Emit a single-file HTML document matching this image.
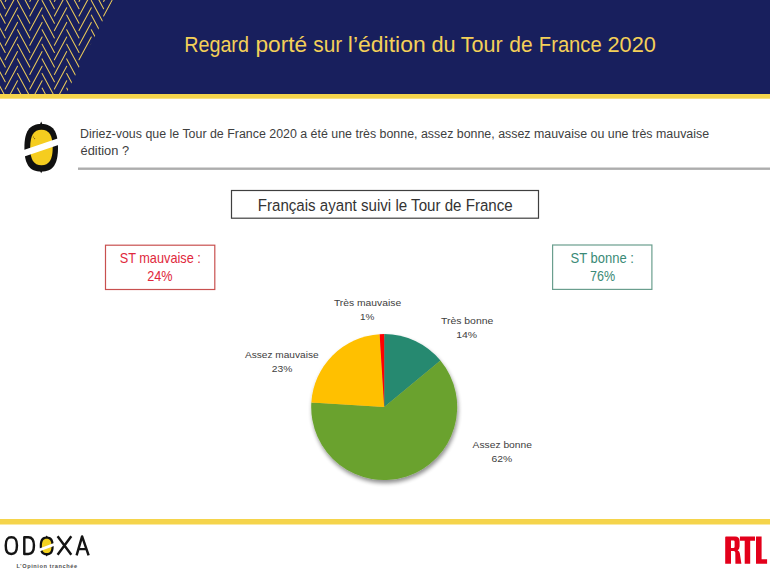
<!DOCTYPE html>
<html><head><meta charset="utf-8">
<style>
html,body{margin:0;padding:0;background:#fff;}
body{width:770px;height:572px;overflow:hidden;position:relative;font-family:"Liberation Sans",sans-serif;}
svg{position:absolute;left:0;top:0;display:block;}
</style></head>
<body>
<svg width="770" height="572" viewBox="0 0 770 572" font-family="Liberation Sans, sans-serif">
<defs>
<clipPath id="pc"><polygon points="0,0 113,0 66,94 0,94"/></clipPath>
<filter id="sh" x="-20%" y="-20%" width="140%" height="140%">
<feGaussianBlur in="SourceAlpha" stdDeviation="2.2"/>
<feOffset dx="1" dy="3" result="b"/>
<feComponentTransfer><feFuncA type="linear" slope="0.45"/></feComponentTransfer>
<feMerge><feMergeNode/><feMergeNode in="SourceGraphic"/></feMerge>
</filter>
</defs>
<!-- header -->
<rect x="0" y="0" width="770" height="94" fill="#181f5d"/>
<g clip-path="url(#pc)" stroke="#e8c85a" stroke-width="1.05" stroke-linecap="round">
<line x1="-7.1" y1="-14.1" x2="5.2" y2="8.7"/>
<line x1="-7.1" y1="0.5" x2="5.2" y2="23.3"/>
<line x1="-7.1" y1="15.1" x2="5.2" y2="37.9"/>
<line x1="-7.1" y1="29.7" x2="5.2" y2="52.5"/>
<line x1="-7.1" y1="44.3" x2="5.2" y2="67.1"/>
<line x1="-7.1" y1="58.9" x2="5.2" y2="81.7"/>
<line x1="-7.1" y1="73.5" x2="5.2" y2="96.3"/>
<line x1="-7.1" y1="88.1" x2="5.2" y2="110.9"/>
<line x1="5.2" y1="1.4" x2="17.5" y2="-21.4"/>
<line x1="5.2" y1="16.0" x2="17.5" y2="-6.8"/>
<line x1="17.5" y1="-14.1" x2="29.8" y2="8.7"/>
<line x1="5.2" y1="30.6" x2="17.5" y2="7.8"/>
<line x1="17.5" y1="0.5" x2="29.8" y2="23.3"/>
<line x1="5.2" y1="45.2" x2="17.5" y2="22.4"/>
<line x1="17.5" y1="15.1" x2="29.8" y2="37.9"/>
<line x1="5.2" y1="59.8" x2="17.5" y2="37.0"/>
<line x1="17.5" y1="29.7" x2="29.8" y2="52.5"/>
<line x1="5.2" y1="74.4" x2="17.5" y2="51.6"/>
<line x1="17.5" y1="44.3" x2="29.8" y2="67.1"/>
<line x1="5.2" y1="89.0" x2="17.5" y2="66.2"/>
<line x1="17.5" y1="58.9" x2="29.8" y2="81.7"/>
<line x1="5.2" y1="103.6" x2="17.5" y2="80.8"/>
<line x1="17.5" y1="73.5" x2="29.8" y2="96.3"/>
<line x1="17.5" y1="88.1" x2="29.8" y2="110.9"/>
<line x1="29.8" y1="1.4" x2="42.1" y2="-21.4"/>
<line x1="29.8" y1="16.0" x2="42.1" y2="-6.8"/>
<line x1="42.1" y1="-14.1" x2="54.4" y2="8.7"/>
<line x1="29.8" y1="30.6" x2="42.1" y2="7.8"/>
<line x1="42.1" y1="0.5" x2="54.4" y2="23.3"/>
<line x1="29.8" y1="45.2" x2="42.1" y2="22.4"/>
<line x1="42.1" y1="15.1" x2="54.4" y2="37.9"/>
<line x1="29.8" y1="59.8" x2="42.1" y2="37.0"/>
<line x1="42.1" y1="29.7" x2="54.4" y2="52.5"/>
<line x1="29.8" y1="74.4" x2="42.1" y2="51.6"/>
<line x1="42.1" y1="44.3" x2="54.4" y2="67.1"/>
<line x1="29.8" y1="89.0" x2="42.1" y2="66.2"/>
<line x1="42.1" y1="58.9" x2="54.4" y2="81.7"/>
<line x1="29.8" y1="103.6" x2="42.1" y2="80.8"/>
<line x1="42.1" y1="73.5" x2="54.4" y2="96.3"/>
<line x1="42.1" y1="88.1" x2="54.4" y2="110.9"/>
<line x1="54.4" y1="1.4" x2="66.7" y2="-21.4"/>
<line x1="54.4" y1="16.0" x2="66.7" y2="-6.8"/>
<line x1="66.7" y1="-14.1" x2="79.0" y2="8.7"/>
<line x1="54.4" y1="30.6" x2="66.7" y2="7.8"/>
<line x1="66.7" y1="0.5" x2="79.0" y2="23.3"/>
<line x1="54.4" y1="45.2" x2="66.7" y2="22.4"/>
<line x1="66.7" y1="15.1" x2="79.0" y2="37.9"/>
<line x1="54.4" y1="59.8" x2="66.7" y2="37.0"/>
<line x1="66.7" y1="29.7" x2="79.0" y2="52.5"/>
<line x1="54.4" y1="74.4" x2="66.7" y2="51.6"/>
<line x1="66.7" y1="44.3" x2="79.0" y2="67.1"/>
<line x1="54.4" y1="89.0" x2="66.7" y2="66.2"/>
<line x1="66.7" y1="58.9" x2="79.0" y2="81.7"/>
<line x1="54.4" y1="103.6" x2="66.7" y2="80.8"/>
<line x1="66.7" y1="73.5" x2="79.0" y2="96.3"/>
<line x1="66.7" y1="88.1" x2="79.0" y2="110.9"/>
<line x1="79.0" y1="1.4" x2="91.3" y2="-21.4"/>
<line x1="79.0" y1="16.0" x2="91.3" y2="-6.8"/>
<line x1="91.3" y1="-14.1" x2="103.6" y2="8.7"/>
<line x1="79.0" y1="30.6" x2="91.3" y2="7.8"/>
<line x1="91.3" y1="0.5" x2="103.6" y2="23.3"/>
<line x1="79.0" y1="45.2" x2="91.3" y2="22.4"/>
<line x1="91.3" y1="15.1" x2="103.6" y2="37.9"/>
<line x1="79.0" y1="59.8" x2="91.3" y2="37.0"/>
<line x1="91.3" y1="29.7" x2="103.6" y2="52.5"/>
<line x1="79.0" y1="74.4" x2="91.3" y2="51.6"/>
<line x1="91.3" y1="44.3" x2="103.6" y2="67.1"/>
<line x1="79.0" y1="89.0" x2="91.3" y2="66.2"/>
<line x1="91.3" y1="58.9" x2="103.6" y2="81.7"/>
<line x1="79.0" y1="103.6" x2="91.3" y2="80.8"/>
<line x1="91.3" y1="73.5" x2="103.6" y2="96.3"/>
<line x1="91.3" y1="88.1" x2="103.6" y2="110.9"/>
<line x1="103.6" y1="1.4" x2="115.9" y2="-21.4"/>
<line x1="103.6" y1="16.0" x2="115.9" y2="-6.8"/>
<line x1="103.6" y1="30.6" x2="115.9" y2="7.8"/>
<line x1="103.6" y1="45.2" x2="115.9" y2="22.4"/>
<line x1="103.6" y1="59.8" x2="115.9" y2="37.0"/>
<line x1="103.6" y1="74.4" x2="115.9" y2="51.6"/>
<line x1="103.6" y1="89.0" x2="115.9" y2="66.2"/>
<line x1="103.6" y1="103.6" x2="115.9" y2="80.8"/>
</g>
<rect x="0" y="94" width="770" height="4.7" fill="#f5d44b"/>
<text x="184.26" y="51.5" font-size="21.5" fill="#f4d058" textLength="64.65" lengthAdjust="spacingAndGlyphs">Regard</text>
<text x="255.48" y="51.5" font-size="21.5" fill="#f4d058" textLength="51.74" lengthAdjust="spacingAndGlyphs">porté</text>
<text x="313.37" y="51.5" font-size="21.5" fill="#f4d058" textLength="28.93" lengthAdjust="spacingAndGlyphs">sur</text>
<text x="347.87" y="51.5" font-size="21.5" fill="#f4d058" textLength="77.82" lengthAdjust="spacingAndGlyphs">l’édition</text>
<text x="431.42" y="51.5" font-size="21.5" fill="#f4d058" textLength="24.20" lengthAdjust="spacingAndGlyphs">du</text>
<text x="460.66" y="51.5" font-size="21.5" fill="#f4d058" textLength="41.94" lengthAdjust="spacingAndGlyphs">Tour</text>
<text x="509.25" y="51.5" font-size="21.5" fill="#f4d058" textLength="23.30" lengthAdjust="spacingAndGlyphs">de</text>
<text x="538.82" y="51.5" font-size="21.5" fill="#f4d058" textLength="62.90" lengthAdjust="spacingAndGlyphs">France</text>
<text x="607.48" y="51.5" font-size="21.5" fill="#f4d058" textLength="48.36" lengthAdjust="spacingAndGlyphs">2020</text>

<!-- question icon -->
<g>
<path d="M39.6,125 L41.2,121.6 L42.8,125 Z" fill="#111"/>
<path d="M39.6,170 L41.2,173.2 L42.8,170 Z" fill="#111"/>
<path d="M41.20,124.00 C52.96,124.00 58.00,131.14 58.00,147.80 C58.00,164.46 52.96,171.60 41.20,171.60 C29.44,171.60 24.40,164.46 24.40,147.80 C24.40,131.14 29.44,124.00 41.20,124.00 Z" fill="#111"/>
<path d="M41.45,129.70 C49.10,129.70 52.70,135.40 52.70,147.50 C52.70,159.60 49.10,165.30 41.45,165.30 C33.80,165.30 30.20,159.60 30.20,147.50 C30.20,135.40 33.80,129.70 41.45,129.70 Z" fill="#f5cd1f"/>
<polygon points="20,151.2 62,136.9 62,143.7 20,158" fill="#fff"/>
<circle cx="33.5" cy="137" r="0.6" fill="#7a5a10"/><circle cx="34.6" cy="138.6" r="0.6" fill="#7a5a10"/>
</g>
<text x="79.93" y="137.9" font-size="12" fill="#404040" textLength="629.17" lengthAdjust="spacingAndGlyphs">Diriez-vous que le Tour de France 2020 a été une très bonne, assez bonne, assez mauvaise ou une très mauvaise</text>
<text x="80.50" y="154.5" font-size="12" fill="#404040" textLength="48.62" lengthAdjust="spacingAndGlyphs">édition ?</text>
<rect x="78" y="167.5" width="692" height="2.4" fill="#adadad"/>

<!-- chart title -->
<rect x="231.5" y="190.5" width="307" height="27.7" fill="#fff" stroke="#3f3f3f" stroke-width="1.2"/>
<text x="257.72" y="210.7" font-size="16.3" fill="#333" textLength="254.99" lengthAdjust="spacingAndGlyphs">Français ayant suivi le Tour de France</text>

<!-- ST boxes -->
<rect x="105.5" y="245.2" width="109.3" height="44.3" fill="#fff" stroke="#c8504f" stroke-width="1.2"/>
<rect x="552.6" y="245" width="99.3" height="44.4" fill="#fff" stroke="#6a9e8e" stroke-width="1.2"/>
<text x="119.70" y="263.0" font-size="14.2" fill="#e0283c" textLength="81.14" lengthAdjust="spacingAndGlyphs">ST mauvaise :</text>
<text x="147.21" y="281.2" font-size="14.2" fill="#e0283c" textLength="25.37" lengthAdjust="spacingAndGlyphs">24%</text>
<text x="570.50" y="262.7" font-size="14.2" fill="#3a8a76" textLength="63.38" lengthAdjust="spacingAndGlyphs">ST bonne :</text>
<text x="590.11" y="280.9" font-size="14.2" fill="#3a8a76" textLength="25.06" lengthAdjust="spacingAndGlyphs">76%</text>




<!-- pie -->
<g filter="url(#sh)"><path d="M384.2,407.0 L384.20,334.00 A73.0,73.0 0 0 1 440.45,360.47 Z" fill="#258970"/>
<path d="M384.2,407.0 L440.45,360.47 A73.0,73.0 0 1 1 311.34,402.42 Z" fill="#6aa22f"/>
<path d="M384.2,407.0 L311.34,402.42 A73.0,73.0 0 0 1 379.62,334.14 Z" fill="#ffc000"/>
<path d="M384.2,407.0 L379.62,334.14 A73.0,73.0 0 0 1 384.20,334.00 Z" fill="#ff0000"/></g>

<!-- pie labels -->
<text x="333.94" y="305.7" font-size="9.5" fill="#404040" textLength="67.18" lengthAdjust="spacingAndGlyphs">Très mauvaise</text>
<text x="359.98" y="319.7" font-size="9.5" fill="#404040" textLength="14.42" lengthAdjust="spacingAndGlyphs">1%</text>
<text x="440.94" y="323.8" font-size="9.5" fill="#404040" textLength="52.39" lengthAdjust="spacingAndGlyphs">Très bonne</text>
<text x="456.25" y="338.2" font-size="9.5" fill="#404040" textLength="20.86" lengthAdjust="spacingAndGlyphs">14%</text>
<text x="244.90" y="357.5" font-size="9.5" fill="#404040" textLength="73.71" lengthAdjust="spacingAndGlyphs">Assez mauvaise</text>
<text x="271.72" y="371.6" font-size="9.5" fill="#404040" textLength="20.59" lengthAdjust="spacingAndGlyphs">23%</text>
<text x="472.60" y="447.9" font-size="9.5" fill="#404040" textLength="59.32" lengthAdjust="spacingAndGlyphs">Assez bonne</text>
<text x="491.62" y="462.1" font-size="9.5" fill="#404040" textLength="20.69" lengthAdjust="spacingAndGlyphs">62%</text>

<!-- footer -->
<rect x="0" y="519" width="770" height="5.5" fill="#f5d44b"/>
<!-- ODOXA -->
<g fill="none" stroke="#141414" stroke-width="2.45" stroke-linejoin="round">
<path d="M11.35,537.15 C15.38,537.15 16.95,539.50 16.95,545.55 C16.95,551.60 15.38,553.95 11.35,553.95 C7.32,553.95 5.75,551.60 5.75,545.55 C5.75,539.50 7.32,537.15 11.35,537.15 Z"/>
<path d="M24.3,537.15 H28.3 C32.6,537.15 33.95,540.5 33.95,545.55 C33.95,550.6 32.6,553.95 28.3,553.95 H24.3 Z"/>
<path d="M57.6,536.3 L71.3,554.8 M71.3,536.3 L57.6,554.8"/>
<path d="M76.6,555.3 L82.1,536.4 L88.6,555.3 M78.6,549.1 h8.2"/>
</g>
<g>
<path d="M45.6,537 L46.7,535.4 L47.8,537 Z" fill="#111"/>
<path d="M45.6,555 L46.7,556.6 L47.8,555 Z" fill="#111"/>
<path d="M46.70,536.60 C51.60,536.60 53.70,539.41 53.70,545.95 C53.70,552.50 51.60,555.30 46.70,555.30 C41.80,555.30 39.70,552.50 39.70,545.95 C39.70,539.41 41.80,536.60 46.70,536.60 Z" fill="#111"/>
<path d="M46.70,538.80 C49.96,538.80 51.50,541.09 51.50,545.95 C51.50,550.81 49.96,553.10 46.70,553.10 C43.44,553.10 41.90,550.81 41.90,545.95 C41.90,541.09 43.44,538.80 46.70,538.80 Z" fill="#f3d21f"/>
<polygon points="38,549 56,542.2 56,545.2 38,552" fill="#fff"/>
</g>
<text x="16.4" y="568.2" font-size="5.6" font-weight="bold" fill="#505050" textLength="60.6" lengthAdjust="spacing">L’Opinion tranchée</text>
<!-- RTL -->
<g fill="#e3001b">
<path fill-rule="evenodd" d="M725.2,537.3 Q725.2,536.5 726,536.5 H735.2 Q739.6,536.5 739.6,541 V546.3 Q739.6,549.2 737.6,550.3 Q739.5,551.2 739.8,553.2 L741.4,563.8 H735.4 L735.3,552.4 Q735.2,550.9 733.8,550.9 H731 V563.8 H725.2 Z M731,540.4 H733.4 Q734.6,540.4 734.6,541.6 V546.7 Q734.6,547.9 733.4,547.9 H731 Z"/>
<path d="M739.9,536.5 H755 V540.8 H750.2 V563.8 H744.7 V540.8 H739.9 Z"/>
<path d="M756,536.5 H761.6 V559.3 H767.1 V563.8 H756 Z"/>
</g>
</svg>
</body></html>
